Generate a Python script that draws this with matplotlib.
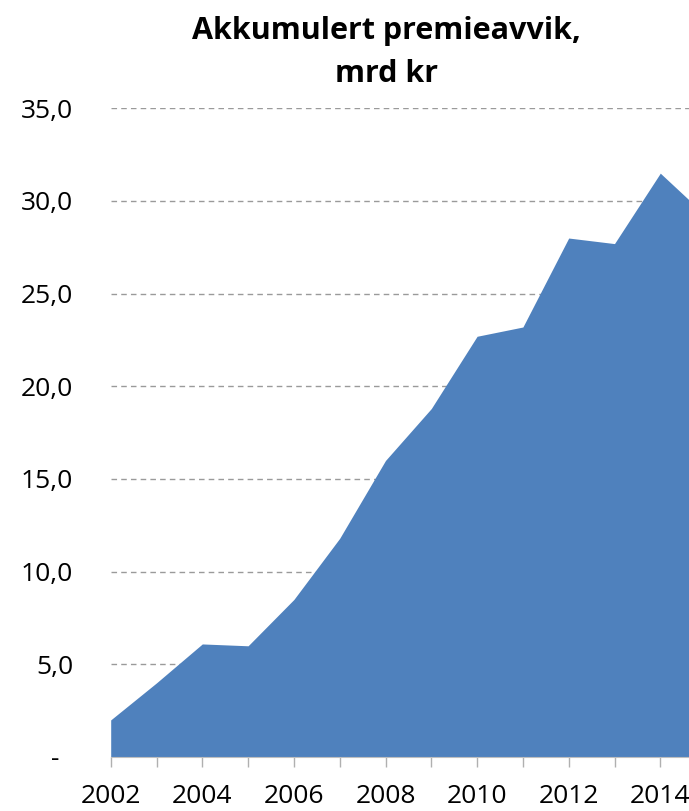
import matplotlib
matplotlib.use("Agg")
import matplotlib.pyplot as plt
import numpy as np

years = [2002, 2003, 2004, 2005, 2006, 2007, 2008, 2009, 2010, 2011, 2012, 2013, 2014, 2015]
values = [2.0, 4.0, 6.1, 6.0, 8.5, 11.8, 16.0, 18.8, 22.7, 23.2, 28.0, 27.7, 31.5, 29.2]
ytick_vals = [0, 5, 10, 15, 20, 25, 30, 35]
ytick_labels = ["-  ", "5,0", "10,0", "15,0", "20,0", "25,0", "30,0", "35,0"]
xtick_labels_years = [2002, 2004, 2006, 2008, 2010, 2012, 2014]
title_lines = ["Akkumulert premieavvik,", "mrd kr"]

plt.rcParams['font.family'] = ['Open Sans', 'DejaVu Sans']

W, H = 689, 811
fig = plt.figure(figsize=(W / 100, H / 100), dpi=100)
left = 110.7 / W
bottom = (H - 757) / H
top = (H - 108.3) / H
right = 706.1 / W
ax = fig.add_axes([left, bottom, right - left, top - bottom])

ax.fill_between(years, values, 0, color="#4F81BD", linewidth=0, zorder=2)
ax.set_xlim(2002, 2015)
ax.set_ylim(0, 35)

ax.set_yticks(ytick_vals)
ax.set_yticklabels(ytick_labels)
ax.grid(axis="y", linestyle=(0, (4, 3)), color="#9a9a9a", linewidth=1.0, zorder=1)
ax.set_axisbelow(True)

ax.set_xticks(years, minor=False)
ax.set_xticklabels([str(y) if y in xtick_labels_years else "" for y in years])

for s in ["top", "right", "left"]:
    ax.spines[s].set_visible(False)
ax.spines["bottom"].set_color("#bfbfbf")

ax.tick_params(axis="y", length=0, pad=27, labelsize=19, colors="#000000")
ax.tick_params(axis="x", length=7, width=1, color="#b0b0b0", pad=12.5, labelsize=19)

for i, line in enumerate(title_lines):
    fig.text(386.5 / W, (H - (39 + 43 * i)) / H, line, ha="center", va="baseline",
             fontsize=22, fontweight="bold")

fig.savefig("out.png", dpi=100)
